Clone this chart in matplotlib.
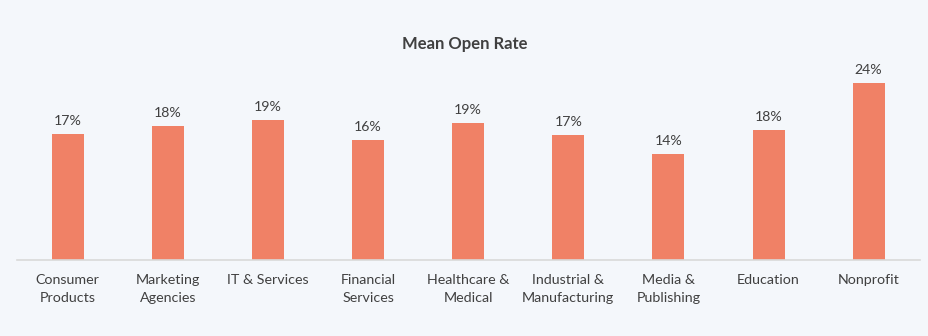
import matplotlib.pyplot as plt

categories = ["Consumer\nProducts", "Marketing\nAgencies", "IT & Services",
              "Financial\nServices", "Healthcare &\nMedical", "Industrial &\nManufacturing",
              "Media &\nPublishing", "Education", "Nonprofit"]
open_rate = [17.0, 18.2, 18.9, 16.3, 18.6, 16.9, 14.3, 17.6, 24.0]

bg = "#f4f7fb"
bar_color = "#f08166"
text_color = "#404040"

plt.rcParams["font.family"] = ["Lato", "DejaVu Sans"]

fig = plt.figure(figsize=(9.29, 3.36), dpi=100, facecolor=bg)
ax = fig.add_axes([0.018, 0.226, 0.972, 0.572], facecolor=bg)

x = range(len(categories))
bars = ax.bar(x, open_rate, width=0.32, color=bar_color, zorder=2)

for rect, v in zip(bars, open_rate):
    ax.annotate(f"{v:.0f}%", (rect.get_x() + rect.get_width() / 2, v),
                xytext=(0, 5), textcoords="offset points",
                ha="center", va="bottom", fontsize=10.2, color=text_color)

ax.set_xlim(-0.51, 8.51)
ax.set_ylim(0, 26)
ax.set_xticks(list(x))
ax.set_xticklabels(categories, fontsize=10.3, color=text_color, linespacing=1.6)
ax.tick_params(axis="x", length=0, pad=10)
ax.set_yticks([])

for side in ["top", "right", "left"]:
    ax.spines[side].set_visible(False)
ax.spines["bottom"].set_color("#d9d9d9")
ax.spines["bottom"].set_linewidth(1.2)

fig.text(0.5, 0.87, "Mean Open Rate", ha="center", va="center",
         fontsize=12, fontweight="bold", color=text_color)

fig.savefig("out.png", dpi=100, facecolor=bg)
